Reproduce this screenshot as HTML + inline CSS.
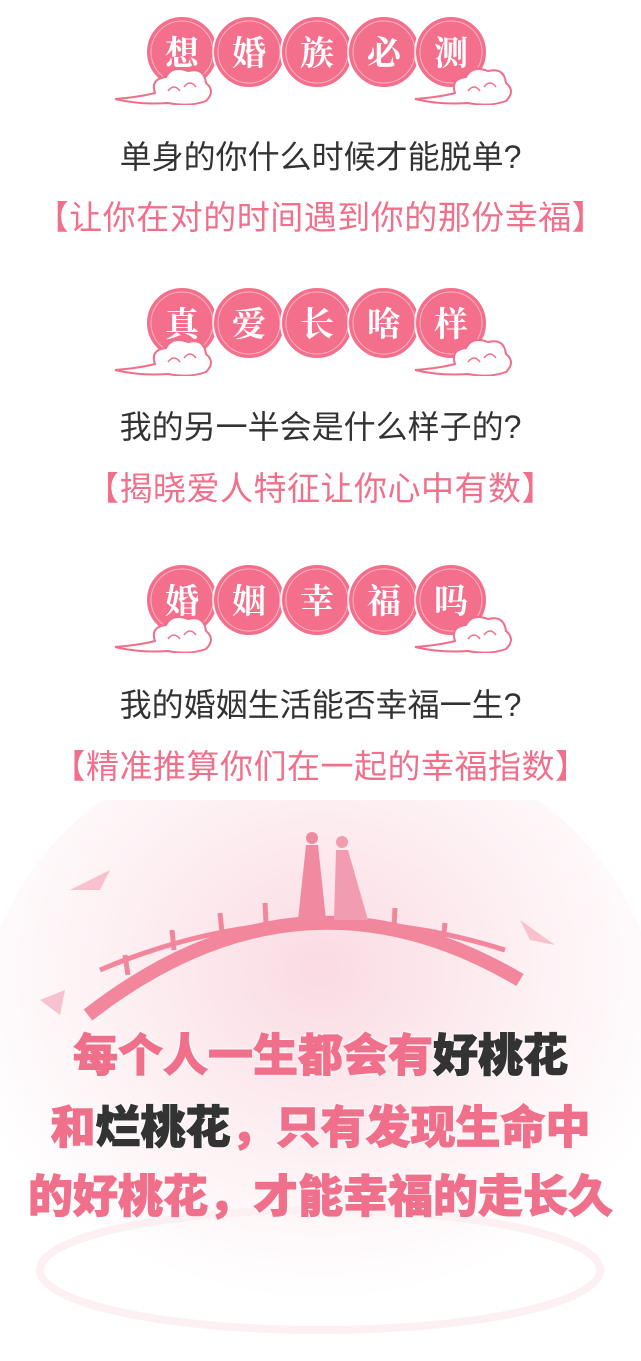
<!DOCTYPE html>
<html><head><meta charset="utf-8">
<style>
body{margin:0;width:641px;height:1361px;background:#fff;position:relative;overflow:hidden;font-family:"Liberation Sans","Noto Sans CJK SC",sans-serif}
.badge{position:absolute;left:0;width:641px;height:100px}
.t{position:absolute;left:0;width:641px;text-align:center;font-size:32px;line-height:36px;white-space:nowrap}
.q{color:#333}
.p{color:#f0708c;font-size:33px;letter-spacing:0.5px}
.big{position:absolute;left:0;width:641px;text-align:center;font-size:45px;font-weight:900;line-height:50px;color:#f0708c;-webkit-text-stroke:1px #f0708c;text-shadow:0 0 3px #fff,0 0 3px #fff,0 0 3px #fff;white-space:nowrap}
.d{color:#333;-webkit-text-stroke:1px #333}
</style></head><body>
<svg width="0" height="0" style="position:absolute"><defs>
<g id="cloud"><path d="M-45 14 Q-20 12 -5 8 Q-10 -6 6 -8 Q12 -20 28 -14 Q44 -18 46 -2 Q56 6 46 16 Q30 22 8 18 Q-20 20 -45 14Z" fill="#fff" stroke="#f06e8a" stroke-width="2"/><path d="M8 6 q6 -8 12 0 M24 2 q6 -8 12 0" fill="none" stroke="#f06e8a" stroke-width="1.5"/></g>
</defs></svg>

<div class="badge" style="top:5px">
<svg width="641" height="100">
<g fill="#f36f8b" stroke="#fff" stroke-width="2">
<circle cx="182" cy="47" r="36"/><circle cx="249" cy="47" r="36"/><circle cx="317" cy="47" r="36"/><circle cx="384" cy="47" r="36"/><circle cx="451" cy="47" r="36"/></g>
<g fill="none" stroke="#ffb3c2" stroke-width="1"><circle cx="182" cy="47" r="31"/><circle cx="249" cy="47" r="31"/><circle cx="317" cy="47" r="31"/><circle cx="384" cy="47" r="31"/><circle cx="451" cy="47" r="31"/></g>
<g fill="#fff" font-size="34" font-family="Noto Serif CJK SC,serif" font-weight="bold" text-anchor="middle">
<text x="182" y="60">想</text><text x="249" y="60">婚</text><text x="317" y="60">族</text><text x="384" y="60">必</text><text x="451" y="60">测</text></g>
<use href="#cloud" x="160" y="80"/><use href="#cloud" x="460" y="80"/>
</svg></div>
<div class="t q" style="top:139px">单身的你什么时候才能脱单?</div>
<div class="t p" style="top:200px">【让你在对的时间遇到你的那份幸福】</div>

<div class="badge" style="top:276px">
<svg width="641" height="100">
<g fill="#f36f8b" stroke="#fff" stroke-width="2">
<circle cx="182" cy="47" r="36"/><circle cx="249" cy="47" r="36"/><circle cx="317" cy="47" r="36"/><circle cx="384" cy="47" r="36"/><circle cx="451" cy="47" r="36"/></g>
<g fill="none" stroke="#ffb3c2" stroke-width="1"><circle cx="182" cy="47" r="31"/><circle cx="249" cy="47" r="31"/><circle cx="317" cy="47" r="31"/><circle cx="384" cy="47" r="31"/><circle cx="451" cy="47" r="31"/></g>
<g fill="#fff" font-size="34" font-family="Noto Serif CJK SC,serif" font-weight="bold" text-anchor="middle">
<text x="182" y="60">真</text><text x="249" y="60">爱</text><text x="317" y="60">长</text><text x="384" y="60">啥</text><text x="451" y="60">样</text></g>
<use href="#cloud" x="160" y="80"/><use href="#cloud" x="460" y="80"/>
</svg></div>
<div class="t q" style="top:409px">我的另一半会是什么样子的?</div>
<div class="t p" style="top:471px">【揭晓爱人特征让你心中有数】</div>

<div class="badge" style="top:553px">
<svg width="641" height="100">
<g fill="#f36f8b" stroke="#fff" stroke-width="2">
<circle cx="182" cy="47" r="36"/><circle cx="249" cy="47" r="36"/><circle cx="317" cy="47" r="36"/><circle cx="384" cy="47" r="36"/><circle cx="451" cy="47" r="36"/></g>
<g fill="none" stroke="#ffb3c2" stroke-width="1"><circle cx="182" cy="47" r="31"/><circle cx="249" cy="47" r="31"/><circle cx="317" cy="47" r="31"/><circle cx="384" cy="47" r="31"/><circle cx="451" cy="47" r="31"/></g>
<g fill="#fff" font-size="34" font-family="Noto Serif CJK SC,serif" font-weight="bold" text-anchor="middle">
<text x="182" y="60">婚</text><text x="249" y="60">姻</text><text x="317" y="60">幸</text><text x="384" y="60">福</text><text x="451" y="60">吗</text></g>
<use href="#cloud" x="160" y="80"/><use href="#cloud" x="460" y="80"/>
</svg></div>
<div class="t q" style="top:687px">我的婚姻生活能否幸福一生?</div>
<div class="t p" style="top:749px">【精准推算你们在一起的幸福指数】</div>

<svg style="position:absolute;left:0;top:800px" width="641" height="561">
<defs><radialGradient id="g" cx="0.5" cy="0.4" r="0.55"><stop offset="0" stop-color="#fadbe3"/><stop offset="0.55" stop-color="#fdf0f3"/><stop offset="1" stop-color="#fff"/></radialGradient></defs>
<ellipse cx="320" cy="230" rx="340" ry="300" fill="url(#g)"/>
<path d="M88 215 Q300 50 520 180" fill="none" stroke="#f2869c" stroke-width="14"/>
<path d="M100 170 Q300 85 505 150" fill="none" stroke="#f2869c" stroke-width="5"/>
<g stroke="#f2869c" stroke-width="5"><line x1="125" y1="155" x2="128" y2="175"/><line x1="172" y1="130" x2="174" y2="150"/><line x1="220" y1="113" x2="222" y2="133"/><line x1="265" y1="103" x2="266" y2="123"/><line x1="395" y1="108" x2="394" y2="128"/><line x1="445" y1="123" x2="443" y2="143"/></g>
<circle cx="312" cy="38" r="6" fill="#f08aa0"/><path d="M306 45 l12 0 l8 75 l-28 0z" fill="#f08aa0"/>
<circle cx="342" cy="42" r="6" fill="#f29cb0"/><path d="M336 50 l12 0 l20 70 l-34 0z" fill="#f29cb0"/>
<path d="M70 90 l40 -20 l-10 20z M520 120 l35 25 l-25 -5z M40 200 l25 -10 l-5 25z" fill="#f7c2ce"/>
<ellipse cx="320" cy="470" rx="280" ry="60" fill="none" stroke="#fdf0f3" stroke-width="8"/>
</svg>

<div class="big" style="top:1031px">每个人一生都会有<span class="d">好桃花</span></div>
<div class="big" style="top:1103px">和<span class="d">烂桃花</span>，只有发现生命中</div>
<div class="big" style="top:1172px">的好桃花，才能幸福的走长久</div>
</body></html>
